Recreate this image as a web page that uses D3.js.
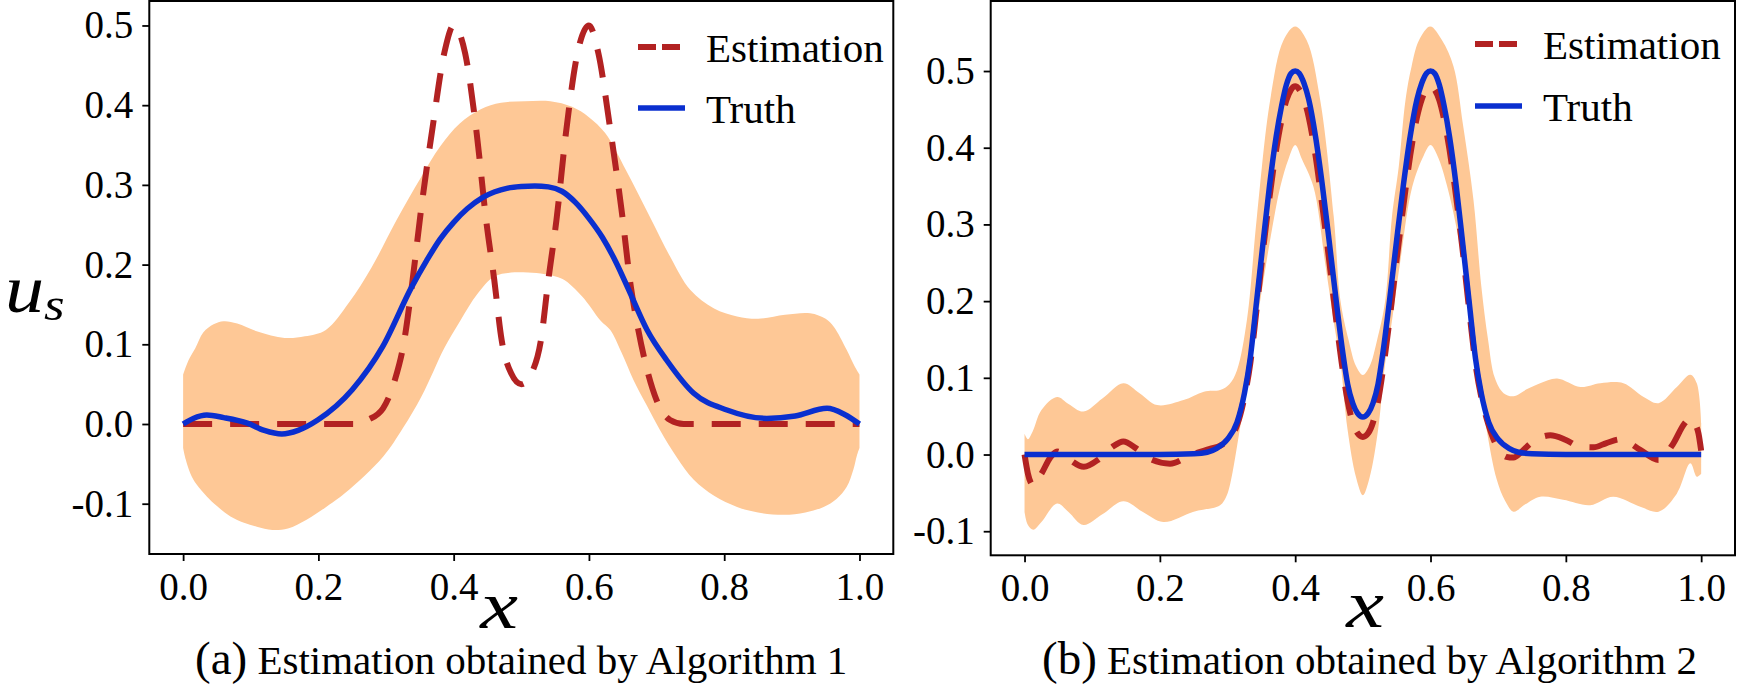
<!DOCTYPE html>
<html>
<head>
<meta charset="utf-8">
<script src="https://cdn.jsdelivr.net/npm/d3@7"></script>
<style>
  body { margin: 0; background: #fff; }
  text { font-family: "Liberation Serif", "Times New Roman", serif; fill: #000; }
</style>
</head>
<body>
<script>
// ---- data ----
const xTicks = [0, 0.2, 0.4, 0.6, 0.8, 1.0];
const yTicks = [-0.1, 0, 0.1, 0.2, 0.3, 0.4, 0.5];
const seriesNames = ["Estimation", "Truth"];
const captionTags = ["(a)", "(b)"];
const captionTexts = [" Estimation obtained by Algorithm 1", " Estimation obtained by Algorithm 2"];

// panel (a)
const aTruth = [[0,0],[0.015,0.007],[0.035,0.0113],[0.06,0.008],[0.095,0.001],[0.12,-0.008],[0.146,-0.0125],
  [0.17,-0.008],[0.199,0.005],[0.25,0.043],[0.295,0.097],[0.338,0.172],[0.36,0.205],[0.38,0.232],[0.40,0.253],
  [0.42,0.27],[0.4426,0.284],[0.46,0.291],[0.48,0.296],[0.5,0.298],[0.52,0.2986],[0.54,0.2975],[0.56,0.292],
  [0.58,0.278],[0.6,0.258],[0.62,0.234],[0.64,0.203],[0.659,0.168],[0.686,0.118],[0.715,0.080],[0.755,0.0385],
  [0.804,0.0176],[0.863,0.007],[0.905,0.01],[0.952,0.0197],[0.978,0.012],[1.0,0]];
const aEst = [[0,0],[0.26,0],[0.273,0.005],[0.2956,0.0197],[0.313,0.055],[0.327,0.105],[0.338,0.172],[0.352,0.27],
  [0.369,0.373],[0.386,0.465],[0.4,0.5],[0.417,0.465],[0.434,0.365],[0.448,0.256],[0.46,0.181],[0.471,0.105],
  [0.485,0.0636],[0.5,0.05],[0.515,0.0636],[0.529,0.105],[0.54,0.181],[0.552,0.256],[0.566,0.365],[0.583,0.465],
  [0.6,0.5],[0.614,0.465],[0.631,0.373],[0.648,0.27],[0.662,0.172],[0.673,0.118],[0.686,0.068],[0.70,0.030],
  [0.72,0.005],[0.74,0],[1,0]];
const aUpper = [[0,0.062],[0.008,0.08],[0.018,0.095],[0.03,0.115],[0.045,0.125],[0.06,0.129],[0.08,0.126],[0.11,0.116],
  [0.15,0.108],[0.18,0.11],[0.211,0.118],[0.245,0.152],[0.279,0.197],[0.315,0.255],[0.352,0.31],[0.38,0.348],
  [0.409,0.377],[0.44,0.395],[0.47,0.403],[0.505,0.405],[0.543,0.405],[0.575,0.398],[0.6,0.385],[0.624,0.365],
  [0.655,0.318],[0.69,0.26],[0.72,0.21],[0.75,0.168],[0.785,0.145],[0.819,0.135],[0.85,0.132],[0.89,0.137],
  [0.927,0.139],[0.95,0.132],[0.962,0.122],[0.981,0.093],[0.993,0.072],[1.0,0.062]];
const aLower = [[0,-0.03],[0.004,-0.045],[0.0107,-0.062],[0.02,-0.076],[0.035,-0.091],[0.05,-0.103],[0.07,-0.116],
  [0.09,-0.124],[0.109,-0.129],[0.132,-0.133],[0.155,-0.131],[0.1825,-0.120],[0.21,-0.105],[0.239,-0.087],
  [0.2956,-0.041],[0.325,-0.005],[0.352,0.034],[0.37,0.066],[0.386,0.095],[0.41,0.13],[0.435,0.163],[0.46,0.185],
  [0.485,0.19],[0.51,0.19],[0.535,0.188],[0.561,0.182],[0.59,0.16],[0.617,0.13],[0.6316,0.118],[0.648,0.09],
  [0.666,0.055],[0.685,0.024],[0.705,-0.0075],[0.73,-0.042],[0.755,-0.070],[0.785,-0.09],[0.819,-0.104],
  [0.85,-0.111],[0.888,-0.114],[0.92,-0.111],[0.947,-0.104],[0.966,-0.094],[0.981,-0.079],[0.991,-0.057],
  [0.996,-0.04],[1.0,-0.03]];

// panel (b)
const bTruth = [[0,0],[0.2,0],[0.25,0.001],[0.27,0.003],[0.284,0.008],[0.3,0.02],[0.314,0.042],[0.325,0.08],
  [0.3335,0.125],[0.343,0.2],[0.353,0.28],[0.362,0.35],[0.372,0.415],[0.38,0.455],[0.387,0.482],[0.394,0.497],
  [0.4,0.5],[0.406,0.497],[0.413,0.484],[0.42,0.463],[0.43,0.415],[0.44,0.352],[0.45,0.28],[0.46,0.205],[0.47,0.135],
  [0.4775,0.092],[0.485,0.067],[0.492,0.054],[0.5,0.049],[0.508,0.054],[0.515,0.067],[0.5225,0.092],[0.53,0.135],
  [0.54,0.205],[0.55,0.28],[0.56,0.352],[0.57,0.415],[0.58,0.463],[0.587,0.484],[0.594,0.497],[0.6,0.5],
  [0.606,0.497],[0.613,0.482],[0.62,0.455],[0.628,0.415],[0.638,0.35],[0.647,0.28],[0.657,0.2],[0.6665,0.125],
  [0.675,0.08],[0.686,0.042],[0.7,0.02],[0.716,0.008],[0.73,0.003],[0.75,0.001],[0.8,0],[1,0]];
const bEst = [[0,0],[0.005,-0.025],[0.013,-0.04],[0.025,-0.025],[0.038,-0.004],[0.048,0.004],[0.062,-0.004],
  [0.0877,-0.016],[0.11,-0.006],[0.13,0.01],[0.146,0.017],[0.165,0.008],[0.186,-0.006],[0.215,-0.012],[0.245,-0.001],
  [0.274,0.0074],[0.29,0.012],[0.30,0.018],[0.314,0.038],[0.325,0.075],[0.3335,0.118],[0.343,0.19],[0.353,0.27],
  [0.362,0.335],[0.372,0.398],[0.38,0.437],[0.387,0.462],[0.394,0.476],[0.4,0.48],[0.406,0.476],[0.413,0.463],
  [0.42,0.44],[0.43,0.39],[0.44,0.325],[0.45,0.255],[0.46,0.18],[0.47,0.112],[0.4775,0.07],[0.485,0.042],
  [0.492,0.028],[0.5,0.023],[0.508,0.028],[0.515,0.042],[0.5225,0.07],[0.53,0.112],[0.54,0.18],[0.55,0.255],
  [0.56,0.325],[0.57,0.39],[0.58,0.44],[0.587,0.463],[0.594,0.476],[0.6,0.48],[0.606,0.476],[0.613,0.462],
  [0.62,0.437],[0.628,0.398],[0.638,0.335],[0.647,0.27],[0.657,0.19],[0.6665,0.118],[0.675,0.075],[0.686,0.038],
  [0.695,0.016],[0.703,0.004],[0.712,-0.003],[0.7226,-0.004],[0.735,0.004],[0.748,0.0146],[0.777,0.025],
  [0.8,0.019],[0.8215,0.010],[0.8409,0.0094],[0.86,0.015],[0.881,0.0198],[0.91,0.006],[0.937,-0.007],
  [0.959,0.0146],[0.975,0.04],[0.984,0.047],[0.991,0.04],[0.996,0.0276],[1.0,0.005]];
const bUpper = [[0,0.027],[0.005,0.02],[0.012,0.03],[0.025,0.058],[0.048,0.075],[0.065,0.066],[0.087,0.056],
  [0.115,0.073],[0.146,0.093],[0.17,0.08],[0.196,0.0645],[0.235,0.071],[0.265,0.082],[0.289,0.084],[0.303,0.092],
  [0.314,0.11],[0.3286,0.175],[0.3434,0.31],[0.363,0.462],[0.3827,0.54],[0.4,0.558],[0.417,0.54],[0.437,0.462],
  [0.457,0.31],[0.467,0.2],[0.479,0.149],[0.49,0.115],[0.5,0.1036],[0.51,0.115],[0.521,0.149],[0.533,0.2],
  [0.543,0.31],[0.553,0.375],[0.563,0.462],[0.572,0.506],[0.583,0.54],[0.5996,0.558],[0.617,0.54],[0.634,0.506],
  [0.648,0.43],[0.6635,0.332],[0.675,0.22],[0.685,0.15],[0.695,0.10],[0.708,0.08],[0.7226,0.076],[0.742,0.085],
  [0.762,0.093],[0.787,0.099],[0.8215,0.088],[0.851,0.093],[0.885,0.093],[0.915,0.075],[0.937,0.067],
  [0.964,0.088],[0.984,0.104],[0.9935,0.093],[1.0,0.041]];
const bLower = [[0,-0.075],[0.005,-0.092],[0.013,-0.098],[0.025,-0.088],[0.048,-0.064],[0.065,-0.075],
  [0.087,-0.092],[0.115,-0.078],[0.146,-0.061],[0.175,-0.075],[0.205,-0.088],[0.25,-0.0745],[0.289,-0.066],
  [0.298,-0.055],[0.304,-0.038],[0.318,0.032],[0.3335,0.119],[0.35,0.21],[0.365,0.29],[0.378,0.349],[0.39,0.385],
  [0.4,0.4035],[0.41,0.385],[0.427,0.349],[0.445,0.245],[0.459,0.162],[0.467,0.119],[0.4775,0.032],[0.49,-0.03],
  [0.5,-0.053],[0.51,-0.03],[0.5225,0.032],[0.533,0.119],[0.541,0.162],[0.555,0.25],[0.573,0.349],[0.59,0.39],
  [0.6,0.4035],[0.61,0.39],[0.626,0.345],[0.649,0.245],[0.666,0.136],[0.683,0.032],[0.698,-0.033],[0.71,-0.06],
  [0.7226,-0.0745],[0.74,-0.065],[0.762,-0.055],[0.796,-0.059],[0.836,-0.066],[0.870,-0.055],[0.91,-0.068],
  [0.937,-0.0745],[0.964,-0.051],[0.984,-0.0115],[0.9935,-0.029],[1.0,-0.025]];

// ---- style ----
const W = 1738, H = 688;
const red = "#b22222", blue = "#0a2fcf", band = "#fec896";
const tickFont = 39, legendFont = 41;

const svg = d3.select("body").append("svg")
  .attr("width", W).attr("height", H)
  .style("background", "#fff");

function drawPanel(p) {
  const x = d3.scaleLinear().domain([-0.05, 1.05]).range([p.left, p.right]);
  const y = d3.scaleLinear().domain(p.yDomain).range([p.bottom, p.top]);
  const g = svg.append("g");

  // uncertainty band: upper edge forward, lower edge back
  const edge = d3.line().x(d => x(d[0])).y(d => y(d[1])).curve(d3.curveCatmullRom.alpha(0.5));
  const bandD = edge(p.upper) + "L" + edge(p.lower.slice().reverse()).slice(1) + "Z";
  g.append("path").attr("d", bandD).attr("fill", band);

  const line = d3.line().x(d => x(d[0])).y(d => y(d[1])).curve(d3.curveMonotoneX);
  g.append("path").attr("d", line(p.est))
    .attr("fill", "none").attr("stroke", red).attr("stroke-width", 6)
    .attr("stroke-dasharray", "29,18");
  g.append("path").attr("d", line(p.truth))
    .attr("fill", "none").attr("stroke", blue).attr("stroke-width", 5.5)
    .attr("stroke-linejoin", "round");

  // axes
  const ax = g.append("g").attr("transform", `translate(0,${p.bottom})`)
    .call(d3.axisBottom(x).tickValues(xTicks).tickFormat(d => d.toFixed(1))
      .tickSize(7).tickSizeOuter(0).tickPadding(11));
  const ay = g.append("g").attr("transform", `translate(${p.left},0)`)
    .call(d3.axisLeft(y).tickValues(yTicks).tickFormat(d => d.toFixed(1))
      .tickSize(7).tickSizeOuter(0).tickPadding(9));
  [ax, ay].forEach(a => {
    a.select(".domain").remove();
    a.selectAll(".tick line").attr("stroke", "#000").attr("stroke-width", 1.8);
    a.selectAll(".tick text")
      .attr("font-family", "Liberation Serif, Times New Roman, serif")
      .attr("font-size", tickFont).attr("fill", "#000");
  });

  g.append("rect")
    .attr("x", p.left).attr("y", p.top)
    .attr("width", p.right - p.left).attr("height", p.bottom - p.top)
    .attr("fill", "none").attr("stroke", "#000").attr("stroke-width", 2);

  // legend
  const lg = g.append("g");
  lg.append("line").attr("x1", p.legX).attr("x2", p.legX + 42)
    .attr("y1", p.legY[0]).attr("y2", p.legY[0])
    .attr("stroke", red).attr("stroke-width", 6).attr("stroke-dasharray", "18,6");
  lg.append("line").attr("x1", p.legX).attr("x2", p.legX + 47)
    .attr("y1", p.legY[1]).attr("y2", p.legY[1])
    .attr("stroke", blue).attr("stroke-width", 5.5);
  seriesNames.forEach((s, i) => {
    lg.append("text").attr("x", p.legX + 68).attr("y", p.legY[i] + 15)
      .attr("font-size", legendFont).text(s);
  });

  // x label (math italic, widened a little)
  g.append("text")
    .attr("transform", `translate(${p.xLabelX},${p.xLabelY}) scale(1.25,1)`)
    .attr("text-anchor", "middle").attr("font-style", "italic")
    .attr("font-size", 68).text("x");

  // caption
  const cap = g.append("text").attr("x", p.capX).attr("y", 674);
  cap.append("tspan").attr("font-size", 47).text(captionTags[p.idx]);
  cap.append("tspan").attr("font-size", 41).text(captionTexts[p.idx]);
}

drawPanel({
  idx: 0, left: 149.3, right: 893.3, top: 1, bottom: 554,
  yDomain: [-0.1631, 0.5307],
  truth: aTruth, est: aEst, upper: aUpper, lower: aLower,
  legX: 638, legY: [47, 108], xLabelX: 499, xLabelY: 628, capX: 195
});
drawPanel({
  idx: 1, left: 990.7, right: 1735, top: 1, bottom: 555.3,
  yDomain: [-0.1314, 0.5913],
  truth: bTruth, est: bEst, upper: bUpper, lower: bLower,
  legX: 1475, legY: [44, 106], xLabelX: 1365, xLabelY: 627, capX: 1042
});

// y label of panel (a)
const yl = svg.append("text")
  .attr("transform", "translate(5,312) scale(1.15,1)")
  .attr("font-style", "italic").attr("font-size", 68).text("u");
yl.append("tspan").attr("font-size", 46).attr("dy", 8).text("s");
</script>
</body>
</html>
